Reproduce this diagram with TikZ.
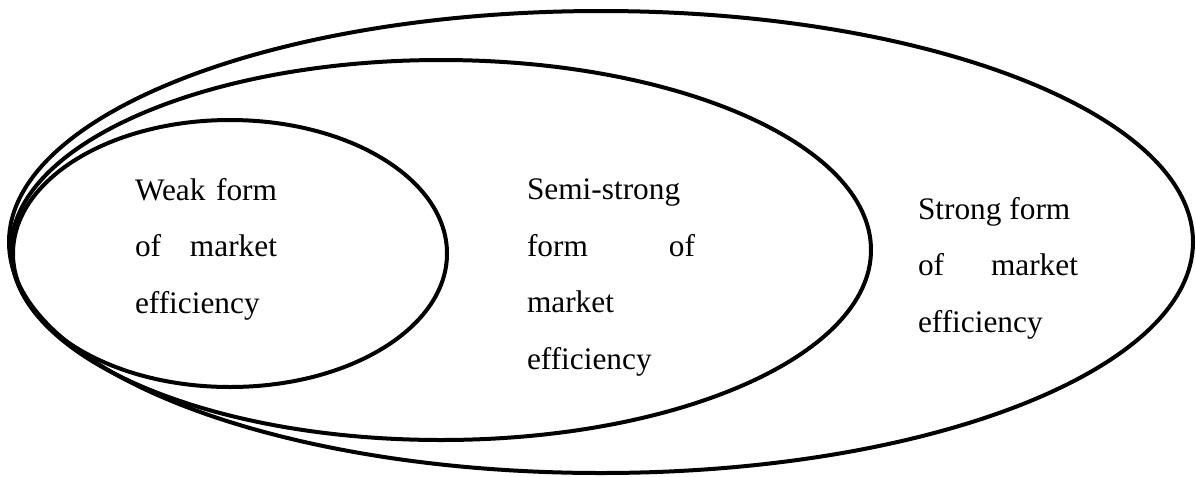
\documentclass[tikz,border=0pt]{standalone}
\usepackage{fontspec}
\setmainfont{Liberation Serif}
\usetikzlibrary{shapes.geometric}
\newcommand{\jline}[2]{\makebox[#1][s]{#2}}
\begin{document}
\begin{tikzpicture}[x=0.75pt,y=-0.75pt,
  ring/.style={draw=black, ellipse, line width=3pt, inner sep=0pt, outer sep=0pt},
  lbl/.style={anchor=north west, inner sep=0pt, outer sep=0pt, align=left,
    font=\fontsize{23.5}{42.4}\selectfont}]
\useasboundingbox (0,0) rectangle (1196,476);
\node[ring, minimum width=888pt, minimum height=346.5pt] (outer) at (601,242) {};
\node[ring, minimum width=645pt, minimum height=285pt] (middle) at (441,250) {};
\node[ring, minimum width=325.5pt, minimum height=200.25pt] (inner) at (230,253.5) {};
\node[lbl] (weak) at (135,178) {\jline{106.5pt}{Weak form}\\\jline{106.5pt}{of market}\\efficiency};
\node[lbl] (semi) at (527,179) {Semi-strong\\\jline{126pt}{form of}\\market\\efficiency};
\node[lbl] (strong) at (918,197) {Strong form\\\jline{120pt}{of market}\\efficiency};
\end{tikzpicture}
\end{document}
